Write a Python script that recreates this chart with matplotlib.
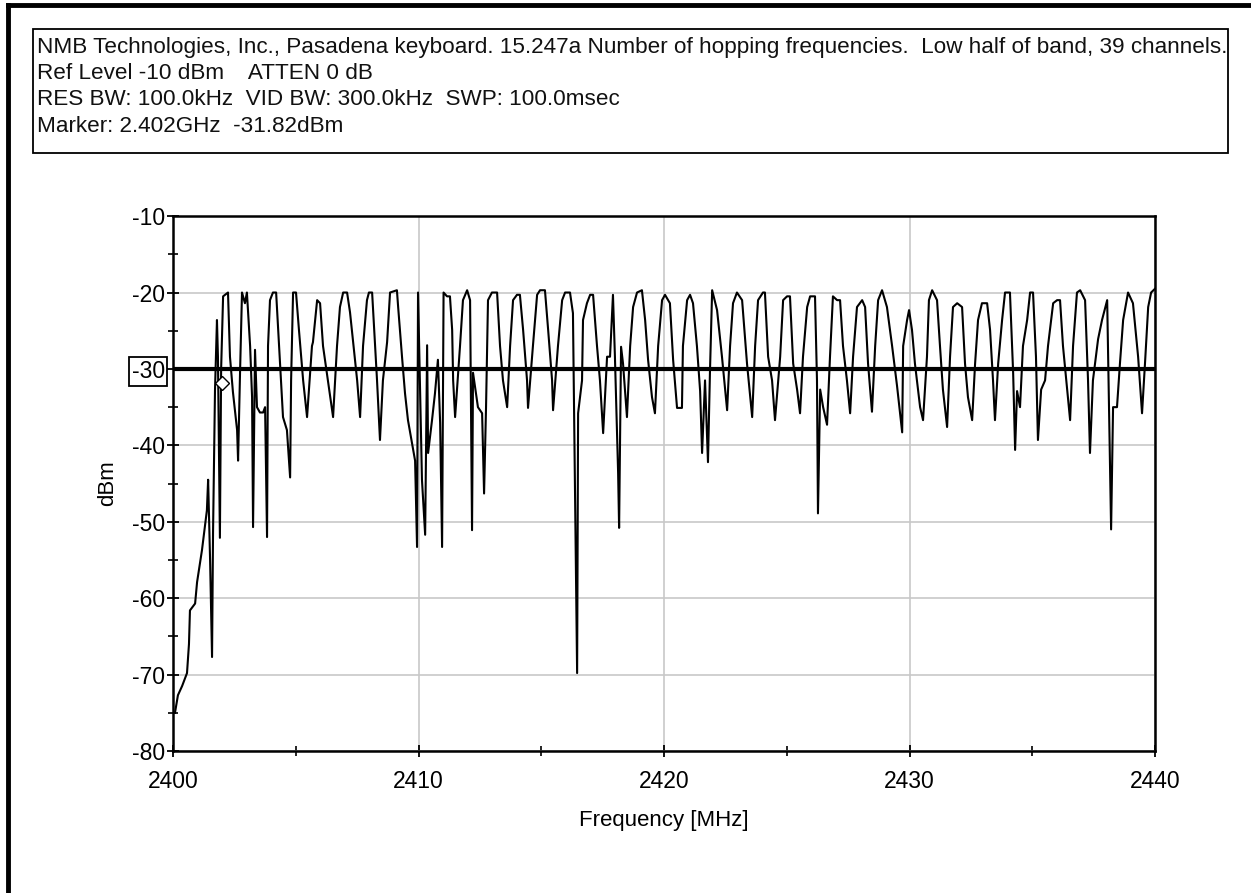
import numpy as np
import matplotlib
matplotlib.use("Agg")
import matplotlib.pyplot as plt
from matplotlib.patches import Rectangle
from matplotlib.lines import Line2D

plt.rcParams["font.family"] = ["Liberation Sans", "DejaVu Sans"]
plt.rcParams["axes.unicode_minus"] = False

# Header lines of the analyzer screen
header_lines = [
    "NMB Technologies, Inc., Pasadena keyboard. 15.247a Number of hopping frequencies.  Low half of band, 39 channels.",
    "Ref Level -10 dBm    ATTEN 0 dB",
    "RES BW: 100.0kHz  VID BW: 300.0kHz  SWP: 100.0msec",
    "Marker: 2.402GHz  -31.82dBm",
]

# Display line and marker
display_line_dbm = -30
marker_mhz = 2402.0
marker_dbm = -31.82

# Band edge roll-off below the first channel
edge_mhz = [2400.08, 2400.20, 2400.37, 2400.57, 2400.65, 2400.69, 2400.90, 2400.98,
            2401.18, 2401.38, 2401.43, 2401.51, 2401.59, 2401.63, 2401.71, 2401.79,
            2401.83, 2401.91, 2401.96]
edge_dbm = [-75.0, -72.7, -71.5, -69.8, -66.0, -61.6, -60.7, -57.9,
            -53.7, -48.5, -44.5, -55.0, -67.7, -51.5, -32.8, -23.6,
            -28.4, -52.1, -30.0]

# Hopping channels 2402 .. 2440 MHz (max hold trace)
hop_mhz = [
    2402.04, 2402.24, 2402.32, 2402.44, 2402.61, 2402.65, 2402.73,
    2402.81, 2402.93, 2403.01, 2403.14, 2403.22, 2403.26, 2403.34, 2403.42, 2403.54, 2403.67, 2403.75, 2403.83, 2403.87,
    2403.95, 2404.07, 2404.20, 2404.36, 2404.48, 2404.64, 2404.77, 2404.81,
    2404.89, 2405.01, 2405.13, 2405.30, 2405.46,
    2405.66, 2405.70, 2405.87, 2405.99, 2406.11, 2406.31, 2406.52,
    2406.68, 2406.80, 2406.93, 2407.09, 2407.21, 2407.50, 2407.62,
    2407.74, 2407.90, 2407.98, 2408.11, 2408.15, 2408.31, 2408.43,
    2408.55, 2408.72, 2408.84, 2409.12, 2409.17, 2409.33, 2409.45, 2409.57, 2409.86, 2409.94,
    2409.98, 2410.14, 2410.27, 2410.35, 2410.39, 2410.55, 2410.67, 2410.79, 2410.88, 2410.96,
    2411.02, 2411.16, 2411.28, 2411.37, 2411.41, 2411.49,
    2411.69, 2411.81, 2411.98, 2412.10, 2412.18, 2412.22, 2412.42, 2412.59, 2412.67, 2412.75,
    2412.83, 2412.99, 2413.20, 2413.32, 2413.44, 2413.61,
    2413.73, 2413.85, 2414.01, 2414.13, 2414.26, 2414.42, 2414.46,
    2414.66, 2414.83, 2414.95, 2415.15, 2415.28, 2415.44, 2415.48,
    2415.68, 2415.85, 2415.97, 2416.17, 2416.29, 2416.37, 2416.46, 2416.50,
    2416.66, 2416.70, 2416.86, 2416.99, 2417.11, 2417.27, 2417.39, 2417.52,
    2417.68, 2417.80, 2417.92, 2418.00, 2418.13, 2418.17, 2418.25, 2418.33, 2418.49,
    2418.62, 2418.74, 2418.90, 2419.10, 2419.23, 2419.35, 2419.51, 2419.63,
    2419.76, 2419.92, 2420.04, 2420.24, 2420.37, 2420.53, 2420.73,
    2420.77, 2420.94, 2421.06, 2421.18, 2421.34, 2421.47, 2421.55, 2421.67, 2421.79, 2421.87,
    2421.96, 2422.16, 2422.36, 2422.57,
    2422.69, 2422.81, 2422.97, 2423.18, 2423.38, 2423.59,
    2423.71, 2423.83, 2424.03, 2424.11, 2424.24, 2424.40, 2424.52,
    2424.73, 2424.85, 2425.01, 2425.13, 2425.26, 2425.42, 2425.54,
    2425.66, 2425.83, 2425.95, 2426.15, 2426.23, 2426.27, 2426.36, 2426.48, 2426.64,
    2426.76, 2426.88, 2427.05, 2427.17, 2427.29, 2427.45, 2427.58,
    2427.70, 2427.86, 2428.07, 2428.19, 2428.31, 2428.47,
    2428.60, 2428.72, 2428.88, 2429.08, 2429.29, 2429.49, 2429.70,
    2429.74, 2429.90, 2429.98, 2430.10, 2430.22, 2430.43, 2430.55,
    2430.71, 2430.79, 2430.92, 2431.12, 2431.24, 2431.36, 2431.53,
    2431.65, 2431.77, 2431.94, 2432.14, 2432.26, 2432.38, 2432.55,
    2432.67, 2432.79, 2432.95, 2433.16, 2433.28, 2433.40, 2433.48,
    2433.61, 2433.77, 2433.89, 2434.09, 2434.22, 2434.30, 2434.38, 2434.50,
    2434.62, 2434.79, 2434.91, 2435.03, 2435.15, 2435.23, 2435.36, 2435.52,
    2435.64, 2435.85, 2436.01, 2436.13, 2436.25, 2436.42, 2436.54,
    2436.66, 2436.82, 2436.95, 2437.15, 2437.27, 2437.35, 2437.47,
    2437.68, 2437.84, 2438.05, 2438.13, 2438.21, 2438.29, 2438.45,
    2438.57, 2438.70, 2438.90, 2439.10, 2439.31, 2439.47,
    2439.59, 2439.72, 2439.84, 2440.00,
]
hop_dbm = [
    -20.5, -20.0, -28.4, -33.0, -38.0, -42.0, -30.5,
    -20.0, -21.4, -20.0, -27.0, -33.7, -50.7, -27.5, -35.0, -35.7, -35.7, -35.0, -52.0, -27.0,
    -21.0, -20.0, -20.0, -29.3, -36.3, -38.0, -44.2, -31.5,
    -20.0, -20.0, -24.9, -31.5, -36.3,
    -27.0, -26.5, -21.0, -21.4, -27.0, -31.5, -36.3,
    -27.0, -21.9, -20.0, -20.0, -22.6, -31.5, -36.3,
    -27.0, -21.0, -20.0, -20.0, -22.3, -31.5, -39.3,
    -31.5, -26.5, -20.0, -19.7, -21.9, -28.5, -33.2, -36.7, -42.0, -53.3,
    -20.0, -44.5, -51.7, -26.9, -41.0, -36.7, -33.2, -28.8, -37.0, -53.3,
    -20.0, -20.5, -20.5, -24.9, -31.5, -36.3,
    -27.0, -21.0, -19.7, -21.0, -51.1, -30.5, -35.0, -35.8, -46.3, -35.0,
    -21.0, -20.0, -20.0, -27.0, -31.5, -35.0,
    -27.0, -21.0, -20.3, -20.3, -24.9, -31.5, -35.1,
    -27.0, -20.3, -19.7, -19.7, -24.9, -31.5, -35.4,
    -27.0, -21.0, -20.0, -20.0, -22.7, -44.5, -69.8, -35.8,
    -31.5, -23.6, -21.4, -20.3, -20.3, -27.0, -31.5, -38.4,
    -28.4, -28.4, -20.3, -28.4, -43.6, -50.8, -27.1, -29.3, -36.3,
    -27.0, -21.9, -20.0, -19.7, -23.6, -28.8, -33.7, -35.8,
    -27.0, -21.0, -20.3, -21.4, -28.8, -35.1, -35.1,
    -27.0, -21.0, -20.3, -21.4, -27.0, -32.9, -41.0, -31.5, -42.2, -30.5,
    -19.7, -22.3, -28.4, -35.4,
    -27.0, -21.4, -20.0, -21.0, -29.3, -36.3,
    -27.0, -21.0, -20.0, -20.0, -28.4, -31.5, -36.7,
    -28.4, -21.0, -20.5, -20.5, -29.3, -32.7, -35.8,
    -28.4, -21.9, -20.5, -20.5, -31.5, -48.9, -32.7, -35.0, -37.3,
    -28.4, -20.5, -21.0, -21.0, -27.0, -31.5, -35.8,
    -28.4, -21.9, -21.0, -21.9, -29.3, -35.6,
    -27.0, -21.0, -19.7, -21.9, -27.0, -32.2, -38.3,
    -27.0, -23.6, -22.3, -24.9, -29.3, -35.0, -36.7,
    -28.4, -21.0, -19.7, -21.0, -27.0, -32.7, -37.6,
    -28.4, -21.9, -21.4, -21.9, -29.3, -33.7, -36.7,
    -29.3, -23.6, -21.4, -21.4, -24.9, -31.5, -36.7,
    -29.3, -23.6, -20.0, -20.0, -30.5, -40.6, -32.9, -35.0,
    -27.0, -23.6, -20.0, -20.0, -28.4, -39.3, -32.7, -31.5,
    -27.0, -21.4, -21.0, -21.0, -27.0, -32.7, -36.7,
    -27.0, -20.0, -19.7, -21.0, -31.5, -41.0, -31.5,
    -26.1, -23.6, -21.0, -35.8, -51.0, -35.0, -35.0,
    -29.3, -23.6, -20.0, -21.4, -28.4, -35.8,
    -29.3, -21.9, -20.0, -19.5,
]

freq = np.array(edge_mhz + hop_mhz)
level = np.array(edge_dbm + hop_dbm)

fig = plt.figure(figsize=(12.51, 8.93), dpi=100)
fig.patch.set_facecolor("white")

# screen border (top and left edges)
fig.add_artist(Line2D([0.006, 1.0], [0.9945, 0.9945], color="black", lw=3.5))
fig.add_artist(Line2D([0.006, 0.006], [0.0, 0.9945], color="black", lw=3.5))

# header box with settings
fig.add_artist(Rectangle((0.0264, 0.8287), 0.9552, 0.1388, transform=fig.transFigure,
                         fill=False, edgecolor="black", lw=1.3))
for text, y in zip(header_lines, [0.9465, 0.9175, 0.8885, 0.8585]):
    fig.text(0.0296, y, text, fontsize=16.2, va="center", ha="left", color="#111111")

ax = fig.add_axes([0.1383, 0.159, 0.785, 0.599])
ax.plot(freq, level, color="black", lw=1.5, zorder=3)
ax.axhline(display_line_dbm, color="black", lw=3, zorder=4)
ax.plot([marker_mhz], [marker_dbm], marker="D", ms=7, mfc="white", mec="black",
        mew=1.0, zorder=5)

ax.set_xlim(2400, 2440)
ax.set_ylim(-80, -10)
ax.set_xticks(np.arange(2400, 2441, 10))
ax.set_xticks(np.arange(2400, 2441, 5), minor=True)
ax.set_yticks(np.arange(-80, -9, 10))
ax.set_yticks(np.arange(-75, -10, 5), minor=True)
ax.tick_params(axis="both", which="major", direction="inout", length=8, width=1.3, labelsize=16.5)
ax.tick_params(axis="x", which="major", pad=10)
ax.tick_params(axis="y", which="major", pad=2)
ax.tick_params(which="minor", direction="inout", length=7, width=1.2)
ax.grid(which="major", color="#c8c8c8", lw=1.2, zorder=0)
for s in ax.spines.values():
    s.set_linewidth(1.8)
    s.set_color("black")

ax.set_xlabel("Frequency [MHz]", fontsize=16, labelpad=12)
ax.set_ylabel("dBm", fontsize=16, labelpad=10)

# boxed reference level label
for lbl in ax.get_yticklabels():
    if lbl.get_text() == "-30":
        lbl.set_bbox(dict(boxstyle="square,pad=0.12", fc="white", ec="black", lw=1.3))

fig.savefig("out.png", dpi=100)
plt.close(fig)
